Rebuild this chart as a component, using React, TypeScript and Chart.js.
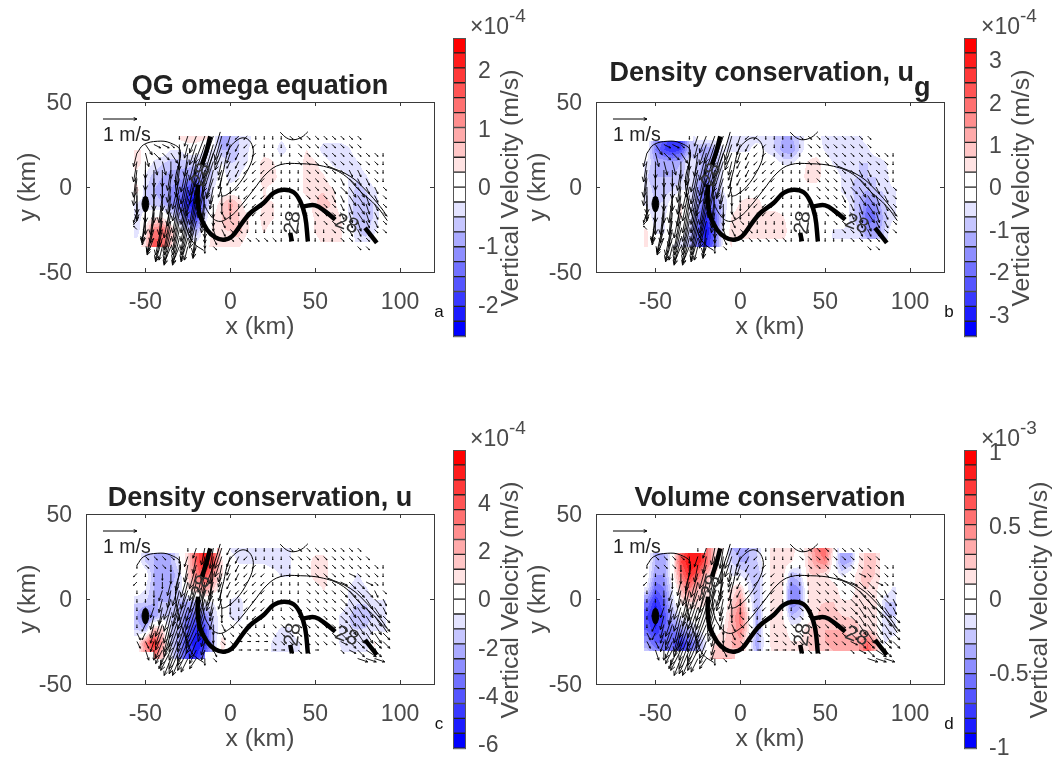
import React, { useEffect, useRef } from "react";
import { Chart, registerables } from "chart.js";
Chart.register(...registerables);

const FONT = "'Liberation Sans', Arial, sans-serif";
const INK = "#4a4a4a";
const xTickValues = [-50, 0, 50, 100];
const yTickValues = [-50, 0, 50];
const heatX = [-55,-50,-45,-40,-35,-30,-25,-20,-15,-10,-5,0,5,10,15,20,25,30,35,40,45,50,55,60,65,70,75,80,85,90];
const heatY = [30,22,14,6,-2,-10,-18,-26,-35];
const arrowY = [30,25,20,15,10,5,0,-5,-10,-15,-20,-25,-30,-35];

const heatA = [
[0,0,0,0,0,1.9,2,2,1.9,0,-4,-3,-2,-1.9,0,0,0,-0.5,0,0,0,0,0,0,0,0,0,0,0,0],
[1,1,0,0,-1,-1,0,0,-1,-1,-3,-3,-2,-1.2,0,0,0,-1.9,-0.5,0,1,0,-1.9,-1.9,-1.9,-1.2,0,0,0,0],
[1.9,0,-1.2,-1.9,-2.5,-2.5,-2.5,-2.5,-2,-1.9,-1,-2,-1.9,-1,0,1.9,1.2,0,0,0,1.9,1.2,0,-1.2,-1.9,-1.9,-1.2,0,0,0],
[0,-1.2,-2.5,-3,-3.5,-3.5,-4,-5,-3,-1.9,0,-1.9,-1,0,0,1.9,1.9,0,0,0,1.9,1.9,1.2,0,0,-1.2,-1.9,-1.2,0,0],
[1.9,-1.9,-3,-3.5,-4,-5,-7,-8,-4,-1,0,0,0,0,0,1.2,0,0,0,0,1.9,1.9,1.9,1.2,0,-1.2,-2.5,-1.9,-1.2,0],
[-1.2,-1.9,-2.5,-3,-4,-6,-8,-9,-4,0,1.9,3.5,1.9,0,0,1.2,1.2,0,0,0,0,1.9,2.5,1.9,0,-1.2,-3,-2.5,-1.9,0],
[-2,0,1.2,1.2,-1,-3,-6,-7,-2,1.2,2,3,2,1.2,0,1.9,1.2,0,0,0,0,1.2,1.2,1.9,1.2,-1.2,-3,-2.5,-1.9,0],
[-1.9,1.2,5,6,3,0,-2,-3,0,1.2,1.9,2,2.5,1.2,0,1.2,0,0,0,0,0,1.2,1.9,1.9,1.2,0,-1.9,-2.5,-1.2,0],
[0,1.9,7,6,2,0,0,0,0,1.9,1.9,1.9,1.2,0,0,0,0,0,0,0,0,0,1.2,1.2,1.2,0,-1.2,-1.2,0,0],
];
const heatB = [
[0,-4,-6,-8,-7,-3,0,0,0,0,-1.9,-1.9,-1.9,-1.9,-1.9,-2,-3,-3,-1.9,0,0,-1.9,-1.9,-1.9,-1.2,-1.2,-0.5,0,0,0],
[0,-5,-7,-8,-7,-3,-3,-4,-3,-1,-1.2,-1.2,-1.2,0,-1.2,-2,-3.5,-4,-1.9,0,0,-1.2,-1.9,-1.9,-1.9,-1.2,-1.2,0,0,0],
[-1.2,-3,-3,-3.5,-3,-1,-2,-4,-3,-1,0,0,0,0,0,0,-1.2,-1.2,0,1.2,1.9,0,-1.2,-1.9,-1.9,-2,-2,-1.9,-1.2,0],
[-1.9,-3,-3,-3,-2.5,-1,-3,-5,-3,-1,0,0,0,0,0,0,0,0,0,1.9,1.9,0,0,-1.2,-1.9,-2,-2,-2,-1.9,0],
[-1.2,-2.5,-2.5,-2,-1,-1,-4,-6,-4,-1,0,0,0,0,0,0,0,0,0,0,0,0,0,-1.2,-1.9,-2.5,-3,-2,-1.9,-1.2],
[-1.2,-2,-1.9,0,1.2,-1,-4,-6,-5,-1.9,0,1.2,1.9,1.9,0,0,0,0,0,0,0,0,0,0,-1.2,-3,-5,-4,-2,-1.2],
[0,-1.9,-1.2,0,1.2,-1,-5,-8,-6,-1.9,1.2,1.9,1.9,1.9,1.9,2,1.2,0,0,0,0,0,0,0,-1.2,-3,-6,-5,-2.5,-1.2],
[1.2,-1.2,-1.2,0,0,-2,-6,-9,-6,-1,1.9,1.2,1.9,2,2,2,2,0,0,0,0,0,-1.2,-1.2,-1.2,-2,-4,-4,-2,0],
[1.2,0,0,-1,-1.9,-3,-6,-8,-5,-0.5,1.2,1.2,1.2,1.2,1.2,1.2,0.5,0,0,0,0,0,-1.2,-1.2,-1.2,-1.2,-2,-2,-1.2,0],
];
const heatC = [
[0,-2,-3,-3,-3,-1,2,6,9,7,0,-1.2,-1.9,-1.9,-1.9,-1.9,-1.9,-2,-1.2,0,0,0,0,0,0,0,0,0,0,0],
[0,-2,-3,-3,-3,-1,2,6,9,7,1.2,0,-1.2,-1.2,-1.2,-1.2,-1.9,-2,-1.2,0,0,1.9,2,0,0,0,0,0,0,0],
[0,0,-3,-4,-4,-2,2,5,7,4,1.2,0,0,0,0,0,0,-1.2,-1.2,0,0,1.9,2,0,0,0,-1.2,0,0,0],
[0,-1,-3,-4,-3,-1.9,1.2,3,4,2,0,0,0,0,0,0,0,0,0,0,0,0,1.2,0,0,-1.2,-1.9,-1.2,0,0],
[-1.9,-2,-3,-3,-3,-3,-3,-3,-1,-1,0,-1.2,-1.9,0,0,0,0,0,0,0,0,0,0,0,0,-1.2,-1.9,-1.9,-1.2,-1.2],
[-3,-6,-4,-2,-2,-3,-5,-6,-5,-2,0,-1.2,-1.9,0,0,0,0,0,0,0,0,0,0,0,-1.2,-1.9,-3,-2.5,-1.9,-1.2],
[-2,-3,3,2,-2,-3,-6,-8,-7,-2.5,0,0,0,0,0,0,-0.5,-1.2,-1.2,0,0,0,0,0,-1.2,-1.9,-2,-1.9,-1.2,-1.2],
[0,5,8,4,-2,-4,-7,-9,-8,-3,1.9,0,0,0,0,0,-1.2,-1.9,-1.9,-1.2,0,0,0,0,-1.2,-1.9,-1.9,-1.9,1.2,0],
[0,3,5,2,-1,-4,-7,-8,-5,-2,0.5,0,0,0,0,0,-1.2,-1.2,-1.2,-1.2,0,0,0,0,-0.5,-1.9,-1.9,-1.2,0.5,0],
];
const heatD = [
[0,-3,-3,0,5,8,9,6,2,1.2,-3,-3.5,-3,-1.9,0,1.9,2,2,0,2,5,6,1.2,-4,-4,1.2,2.5,2,0,0],
[0,-3,-4,0,7,9,9,6,2,0,-2,-3,-3,-2,0,2,2,1.2,-0.5,2,4,5,0,-4,-3,1.2,2.5,2,0,0],
[0,-4,-4,0,5,8,6,3,1.2,0,-1.2,-1.2,-2,-3,0,1.9,1.9,-3,-2,1.9,2,1.2,0,-1.2,0,1.9,2.5,1.9,0,0],
[-1.2,-6,-5,-1,3,5,3,2,0,0,1.2,2.5,-1.2,-3,0,1.9,1.2,-5,-4,1.2,1.9,1.9,1.9,0,0,1.9,2,1.2,0,-1.2],
[-5,-8,-6,-2,1.2,2,1.9,1.2,0,0,1.9,4,0,-3,0,1.9,1.2,-5,-4,1.2,1.9,2,2,1.2,1.2,1.9,1.9,1.2,-2,-2],
[-7,-9,-7,-3,-1,0,0,0,0,0,3,5.5,1.2,-3.5,0,2,1.2,-3,-2,0,1.9,2.5,2.5,2,1.9,1.9,1.9,1.2,-2,-2],
[-6,-8,-6,-5,-4,-3,-1,0,0,1.2,3,5,1.2,-3.5,0,2,1.9,0,0,1.9,2.5,3,3,3,2.5,2,2,1.2,-1.9,-1.9],
[-4,-6,-6,-6,-8,-6,-4,-1,1.9,1.9,3,3.5,0,-4,0,2,1.9,1.2,1.2,2,3,3,3.5,3.5,3.5,4,6,3,-1.2,0],
[-1,-3,-4,-4,-6,-5,-3,0,3,3,3,2,0,-3,0,1.2,1.2,1.2,1.2,1.9,2,2,2.5,2.5,3,4,7,3,0,0],
];

// arrow components, tenths of m/s
const uGeo = [
[0,0,0,0,0,0,-1,-2,-3,-3,-2,-1,-1,-1,0,0,0,0,1,1,1,1,1,1,1,1,1,0,0,0],
[0,2,2,2,1,0,-1,-2,-3,-3,-2,-1,-1,-1,-1,0,0,0,0,1,1,1,1,1,1,1,1,0,0,0],
[-1,1,2,2,2,0,-1,-2,-3,-3,-2,-1,-1,-1,-1,0,0,0,0,1,1,1,1,1,1,1,1,1,1,0],
[-1,0,1,1,0,-1,-2,-2,-3,-3,-1,-1,-1,-1,-1,-1,0,0,0,1,1,1,1,1,1,1,1,1,1,0],
[-1,0,0,0,-1,-1,-2,-2,-3,-2,-1,-1,-1,-1,-1,-1,0,0,0,0,1,1,1,1,1,1,1,1,1,0],
[-1,0,0,0,-1,-2,-2,-3,-2,-2,-1,-1,-1,-1,-1,-1,0,0,0,0,1,1,1,1,1,2,1,1,1,0],
[0,0,0,0,-1,-2,-2,-2,-2,-1,-1,0,-1,-1,-1,-1,0,0,0,0,1,1,1,1,2,2,2,1,1,1],
[0,0,0,-1,-1,-2,-2,-2,-1,-1,0,0,0,-1,-1,-1,0,0,0,0,1,1,1,1,1,2,2,1,1,1],
[0,0,-1,-1,-2,-2,-2,-2,-1,0,0,0,0,-1,-1,-1,0,0,0,0,0,1,1,1,1,1,2,1,1,1],
[-1,-1,-1,-1,-2,-2,-2,-2,-1,0,1,0,0,0,-1,-1,0,0,0,0,0,1,1,1,1,1,2,1,1,1],
[-1,-1,-2,-2,-2,-2,-2,-2,0,0,1,1,0,0,0,0,0,0,0,0,0,0,1,1,1,1,1,1,1,1],
[-1,-1,-2,-2,-2,-2,-2,-1,0,1,1,1,1,0,0,0,0,0,0,0,0,0,0,1,1,1,1,1,1,1],
[0,-1,-2,-2,-2,-2,-2,-1,0,1,1,1,1,1,1,1,1,0,0,0,0,0,0,0,1,1,1,1,0,0],
[0,0,0,-1,-2,-2,-1,-1,0,1,0,0,0,0,0,0,0,0,0,0,0,0,0,0,0,0,1,1,0,0],
];
const vGeo = [
[0,0,0,0,0,-1,-3,-5,-8,-9,-7,-3,-1,-1,-1,-1,-1,-1,-1,-1,-1,-1,-1,-1,-1,-1,-1,0,0,0],
[0,-3,-1,-1,-1,-3,-4,-6,-9,-10,-6,-3,-2,-1,-1,-1,-1,-1,-1,-1,-1,-1,-1,-1,-1,-1,-1,0,0,0],
[-4,-4,-2,-2,-3,-5,-7,-8,-10,-10,-5,-3,-2,-1,-1,-1,-1,-1,-1,-1,-1,-1,-1,-1,-1,-1,-1,-1,-1,-1],
[-6,-5,-4,-4,-5,-7,-9,-10,-10,-9,-4,-2,-2,-1,-1,-1,-1,-1,-1,-1,-1,-1,-1,-1,-1,-1,-1,-1,-1,-1],
[-8,-6,-5,-5,-6,-8,-10,-10,-10,-8,-3,-2,-2,-1,-1,-1,-1,-1,-1,-1,-1,-1,-1,-1,-1,-2,-2,-1,-1,-1],
[-8,-7,-6,-6,-7,-9,-10,-11,-10,-6,-3,-2,-1,-1,-1,-1,-1,-1,-1,-1,-1,-1,-1,-1,-2,-2,-2,-2,-1,-1],
[-8,-7,-7,-7,-8,-10,-11,-11,-9,-5,-3,-2,-1,-1,-1,-1,-1,-1,-1,-1,-1,-1,-1,-2,-2,-3,-3,-2,-2,-1],
[-7,-8,-8,-8,-9,-11,-11,-11,-8,-4,-3,-2,-1,-1,-1,-1,-1,-1,-1,-1,-1,-1,-1,-2,-2,-3,-3,-3,-2,-1],
[-5,-9,-9,-9,-10,-11,-11,-10,-7,-4,-3,-2,-1,-1,-1,-1,-1,-1,-1,-1,-1,-1,-1,-1,-2,-3,-3,-3,-2,-1],
[-3,-9,-9,-10,-11,-11,-11,-9,-6,-4,-2,-2,-1,-1,-1,-1,-1,-1,-1,-1,-1,-1,-1,-1,-2,-3,-3,-3,-2,-1],
[-1,-6,-9,-10,-10,-10,-10,-8,-5,-3,-2,-1,-1,-1,-1,-1,-1,-1,-1,-1,-1,-1,-1,-1,-1,-2,-3,-2,-2,-1],
[1,-3,-7,-9,-9,-9,-9,-7,-4,-3,-2,-1,-1,-1,-1,-1,-1,-1,-1,-1,-1,-1,-1,-1,-1,-2,-2,-2,-1,-1],
[0,-2,-5,-7,-8,-8,-7,-6,-3,-2,-1,-1,-1,-1,-1,-1,-1,-1,-1,-1,-1,-1,-1,-1,-1,-1,-1,-1,0,0],
[0,0,0,-4,-5,-5,-4,-3,-2,-1,0,0,0,0,0,0,0,0,0,0,0,0,0,0,0,0,-1,-1,0,0],
];
const uTotal = [
[0,0,0,0,0,0,0,-1,-1,-1,-2,-1,-1,0,0,0,0,0,1,1,1,1,1,1,1,1,1,0,0,0],
[0,1,1,1,1,0,-1,-1,-1,-1,-2,-1,-1,-1,0,0,0,0,1,1,1,1,1,1,1,1,1,1,0,0],
[0,1,1,1,0,0,-1,-2,-2,-1,-1,-1,-1,-1,-1,0,0,0,0,1,1,1,1,1,1,1,1,1,1,0],
[-1,0,0,0,0,-1,-2,-2,-2,-1,-1,-1,-1,-1,-1,-1,0,0,0,0,1,1,1,1,1,2,1,1,1,0],
[-1,0,0,0,-1,-2,-2,-2,-2,-2,-1,-1,-1,-1,-1,-1,0,0,0,0,1,1,1,1,2,2,2,2,1,0],
[0,0,0,-1,-1,-2,-3,-3,-2,-2,-1,-1,-1,-1,-1,-1,0,0,0,0,1,1,1,1,2,2,2,2,1,1],
[0,0,0,-1,-2,-2,-3,-3,-2,-1,-1,0,0,-1,-1,-1,0,0,0,0,1,1,1,1,2,2,2,2,2,1],
[0,0,-1,-1,-2,-3,-3,-3,-2,-1,0,0,0,-1,-1,-1,0,0,1,1,1,1,1,1,2,2,2,2,2,1],
[0,0,-1,-2,-2,-3,-3,-3,-2,-1,0,1,0,0,-1,-1,0,1,1,1,1,1,1,1,2,2,2,2,2,2],
[0,-1,-1,-2,-2,-3,-3,-3,-2,0,1,1,1,1,0,0,1,1,1,1,1,1,1,1,2,2,2,2,2,2],
[1,-1,-1,-2,-2,-3,-3,-3,-1,0,1,1,1,1,1,1,1,1,1,1,1,1,1,1,2,2,2,2,2,2],
[1,1,-1,-2,-3,-3,-3,-2,-1,0,1,1,1,1,1,1,1,1,1,1,1,1,1,1,2,2,2,3,2,2],
[0,1,0,-2,-3,-3,-3,-2,-1,1,1,1,1,1,1,1,1,1,1,1,1,1,0,0,1,2,2,3,2,0],
[0,0,0,-1,-2,-2,-2,-2,0,1,0,0,0,0,0,0,0,0,0,0,0,0,0,0,0,0,3,3,3,0],
];
const vTotal = [
[0,0,0,0,0,0,-1,-3,-5,-6,-6,-2,-1,-1,-1,-1,-1,-1,-1,-1,-1,-1,-1,-1,-1,-1,-1,0,0,0],
[0,-1,-1,-1,-1,-2,-3,-5,-7,-8,-6,-3,-2,-1,-1,-1,-1,-1,-1,-1,-1,-1,-1,-1,-1,-1,-1,-1,0,0],
[-1,-1,-1,-1,-2,-3,-5,-7,-8,-9,-5,-3,-2,-1,-1,-1,-1,-1,-1,-1,-1,-1,-1,-1,-1,-1,-1,-1,-1,-1],
[-1,-1,-1,-2,-3,-5,-7,-8,-9,-8,-4,-2,-2,-1,-1,-1,-1,-1,-1,-1,-1,-1,-1,-1,-1,-1,-1,-1,-1,-1],
[-1,-1,-1,-2,-4,-7,-8,-9,-9,-7,-3,-2,-1,-1,-1,-1,-1,-1,-1,-1,-1,-1,-1,-1,-1,-2,-2,-1,-1,-1],
[-1,-1,-2,-3,-5,-8,-9,-9,-9,-6,-3,-2,-1,-1,-1,-1,-1,-1,-1,-1,-1,-1,-1,-1,-2,-2,-2,-2,-2,-1],
[-1,-1,-2,-4,-6,-8,-9,-9,-8,-5,-3,-2,-1,-1,-1,-1,-1,-1,-1,-1,-1,-1,-1,-1,-2,-3,-3,-3,-2,-2],
[-1,-2,-3,-5,-7,-9,-9,-9,-7,-4,-3,-2,-1,-1,-1,-1,-1,-1,-1,-1,-1,-1,-1,-1,-2,-3,-3,-3,-3,-2],
[-1,-2,-4,-6,-8,-9,-9,-8,-6,-4,-2,-1,-1,-1,-1,-1,-1,-1,-1,-1,-1,-1,-1,-1,-2,-3,-3,-3,-3,-2],
[-1,-2,-4,-6,-8,-8,-8,-7,-5,-3,-2,-1,-1,-1,-1,-1,-1,-1,-1,-1,-1,-1,-1,-1,-2,-3,-3,-3,-3,-2],
[-2,-2,-3,-5,-7,-8,-8,-6,-4,-3,-2,-1,-1,-1,-1,-1,-1,-1,-1,-1,-1,-1,-1,-1,-2,-2,-3,-3,-3,-2],
[-2,-2,-3,-5,-7,-8,-7,-5,-4,-3,-1,-1,0,0,0,0,-1,-1,-1,-1,-1,-1,-1,-1,-1,-2,-2,-3,-2,-2],
[0,-3,-3,-4,-6,-7,-6,-4,-3,-2,-1,0,0,0,0,0,0,0,-1,-1,-1,0,0,0,-1,-1,-2,-2,-2,0],
[0,0,0,-3,-5,-5,-4,-3,-2,-1,0,0,0,0,0,0,0,0,0,0,0,0,0,0,0,0,-1,-1,-1,0],
];

const thickUpper = [[-11.8,29.8],[-14.1,21],[-16.7,13.1]];
const thickMain = [[-19,1.4],[-19.2,-7.5],[-18,-16.3],[-13.7,-25.1],[-8.8,-29.6],[-3.9,-31],[1,-29],[6.9,-21.2],[11.8,-15.3],[19.6,-9.4],[25.5,-3.5],[31.4,-1.6],[37.3,-3.1],[41.2,-8.4],[44.1,-17.3],[45.7,-32]];
const thickBranch = [[43,-11.4],[50,-10.8],[55.9,-14.3],[61.8,-19.2]];
const thickEnd = [[79.4,-24.1],[86.3,-32.9]];
const thickStub = [[35.3,-27],[36.3,-32]];
const thinArc = [[29.4,32.2],[33.3,28.8],[37.3,27.8],[42.2,29.4],[45.7,32.5]];
const thinLoop = [[-4.9,-5.5],[-5.9,0.4],[-3.9,10.2],[-1,21.6],[3.9,27.5],[8.8,28.8],[12.7,25],[13.3,18],[9.8,9.2],[3.9,0.4],[-2,-4.5],[-4.9,-5.5]];
const thinWest = [[-54.9,20],[-51,24.9],[-43,26.9],[-35.3,25.9],[-29.4,21],[-32.3,4.3],[-30.4,-9.4],[-25.5,-25],[-21.6,-33],[-15.7,-37.3]];
const thinFront = [[-5.9,32.4],[-8.8,22.9],[-12.7,12.2],[-16,2.4],[-15.7,-7.5],[-12.7,-15.3],[-6.9,-20.2],[0,-17.3],[5.9,-11.4],[13.7,-1.6],[21.6,8.2],[29.4,13.1],[41.2,13.7],[54.9,12.2],[66.7,7.3],[76.5,-2.5],[86.3,-11.4],[92.5,-19.8]];
const thinFrontB = [[56.9,12.5],[70.6,6.3],[80.4,-2.5],[88.2,-11.4],[92.5,-17.3]];
const blackSpot = [[-50,-5.5],[-49,-6],[-48.3,-8],[-48,-10],[-48.3,-12],[-49,-14],[-50,-15],[-51,-14],[-51.7,-12],[-52,-10],[-51.7,-8],[-51,-6],[-50,-5.5]];
const contourLabels = [[-17,7,-70],[37,-21,-82],[68.6,-22,20]];

const titles = ["QG omega equation", "Density conservation, u", "Density conservation, u", "Volume conservation"];
const titleSubs = ["", "g", "", ""];
const letters = ["a", "b", "c", "d"];
const barLimits = [2.54, 3.52, 6.2, 1.01];
const barTicks = [[2,1,0,-1,-2],[3,2,1,0,-1,-2,-3],[4,2,0,-2,-4,-6],[1,0.5,0,-0.5,-1]];
const barExponents = ["-4","-4","-4","-3"];
const heats = [heatA, heatB, heatC, heatD];
const uFields = [uGeo, uGeo, uTotal, uTotal];
const vFields = [vGeo, vGeo, vTotal, vTotal];
// [x from, x to, top km] lowered tops; [x from, x to] deep bottom, then deep and shallow bottom km
const lowTops = [[[-99,-30,27]],[[-99,-28,27]],[[-99,-8,27]],[[-99,-20,27],[58,99,27]]];
const deepBottoms = [[-60,10,-35,-32.5],[-60,-5,-35,-30.5],[-45,-15,-35,-31],[-20,-3,-35,-30.6]];
const panelLeft = [0, 510, 0, 510];
const panelTop = [0, 0, 412, 412];
const barLeft = [453, 964, 453, 964];
const labelX = [511, 1022, 511, 1040];
const titleLift = [-15, -28, -15, -15];

const levelColor = (v: number) => {
  const i = Math.min(9, Math.floor(Math.abs(v)));
  if (i < 1) return null;
  const c = Math.round(255 * (1 - i / 9));
  return v > 0 ? `rgb(255,${c},${c})` : `rgb(${c},${c},255)`;
};

function sample(field: number[][], x: number, y: number) {
  const nx = heatX.length, ny = heatY.length;
  const fx = Math.max(0, Math.min(nx - 1.001, (x - heatX[0]) / 5));
  let j = 0;
  while (j < ny - 2 && y < heatY[j + 1]) j++;
  const fy = Math.max(0, Math.min(1, (heatY[j] - y) / (heatY[j] - heatY[j + 1])));
  const i = Math.floor(fx), a = fx - i;
  const p = field[j][i] * (1 - a) + field[j][i + 1] * a;
  const q = field[j + 1][i] * (1 - a) + field[j + 1][i + 1] * a;
  return p * (1 - fy) + q * fy;
}

function drawArrow(ctx: any, x0: number, y0: number, x1: number, y1: number, cap = 5.5) {
  const d = Math.hypot(x1 - x0, y1 - y0);
  if (d < 0.5) return;
  const t = Math.atan2(y1 - y0, x1 - x0);
  const h = Math.min(cap, 0.26 * d);
  ctx.beginPath();
  ctx.moveTo(x0, y0);
  ctx.lineTo(x1, y1);
  ctx.moveTo(x1 - h * Math.cos(t - 0.42), y1 - h * Math.sin(t - 0.42));
  ctx.lineTo(x1, y1);
  ctx.lineTo(x1 - h * Math.cos(t + 0.42), y1 - h * Math.sin(t + 0.42));
  ctx.stroke();
}

const panelPlugin = {
  id: "panelPlugin",
  beforeDatasetsDraw(chart: any, _a: any, o: any) {
    const { ctx, chartArea: area, scales } = chart;
    const k = o.index;
    const field = heats[k];
    const [dx0, dx1, deepY, shallowY] = deepBottoms[k];
    ctx.save();
    for (let px = Math.floor(area.left); px < area.right; px++) {
      const x = scales.x.getValueForPixel(px + 0.5);
      if (x < -57 || x > 92) continue;
      let top = 30;
      lowTops[k].forEach(([a, b, t]: number[]) => { if (x >= a && x <= b) top = t; });
      const bottom = x >= dx0 && x <= dx1 ? deepY : shallowY;
      for (let py = Math.floor(area.top); py < area.bottom; py++) {
        const y = scales.y.getValueForPixel(py + 0.5);
        if (y > top || y < bottom) continue;
        const c = levelColor(sample(field, x, y));
        if (c) { ctx.fillStyle = c; ctx.fillRect(px, py, 1, 1); }
      }
    }
    ctx.strokeStyle = "#000";
    ctx.lineWidth = 0.9;
    chart.data.datasets[0].data.forEach((p: any) => {
      if (!p.u && !p.v) return;
      drawArrow(ctx, scales.x.getPixelForValue(p.x), scales.y.getPixelForValue(p.y),
        scales.x.getPixelForValue(p.x + p.u * 2), scales.y.getPixelForValue(p.y + p.v * 2));
    });
    ctx.restore();
  },
  afterDatasetsDraw(chart: any, _a: any, o: any) {
    const { ctx, chartArea: area, scales } = chart;
    const k = o.index;
    ctx.save();
    ctx.strokeStyle = "#3a3a3a";
    ctx.lineWidth = 1;
    ctx.strokeRect(area.left + 0.5, area.top + 0.5, area.right - area.left, area.bottom - area.top);
    ctx.beginPath();
    xTickValues.forEach((v) => {
      const p = Math.round(scales.x.getPixelForValue(v)) + 0.5;
      ctx.moveTo(p, area.bottom); ctx.lineTo(p, area.bottom - 4);
      ctx.moveTo(p, area.top); ctx.lineTo(p, area.top + 4);
    });
    yTickValues.forEach((v) => {
      const p = Math.round(scales.y.getPixelForValue(v)) + 0.5;
      ctx.moveTo(area.left, p); ctx.lineTo(area.left + 4, p);
      ctx.moveTo(area.right, p); ctx.lineTo(area.right - 4, p);
    });
    ctx.stroke();
    ctx.fillStyle = "#333";
    ctx.font = `21px ${FONT}`;
    ctx.textAlign = "center";
    ctx.textBaseline = "middle";
    contourLabels.forEach(([x, y, r]) => {
      ctx.save();
      ctx.translate(scales.x.getPixelForValue(x), scales.y.getPixelForValue(y));
      ctx.rotate((r * Math.PI) / 180);
      ctx.fillText("28", 0, 0);
      ctx.restore();
    });
    ctx.strokeStyle = "#000";
    ctx.fillStyle = "#222";
    const ky = scales.y.getPixelForValue(40);
    drawArrow(ctx, scales.x.getPixelForValue(-75), ky, scales.x.getPixelForValue(-55), ky, 3.5);
    ctx.font = `19.5px ${FONT}`;
    ctx.textAlign = "left";
    ctx.fillText("1 m/s", scales.x.getPixelForValue(-75), scales.y.getPixelForValue(30));
    ctx.fillStyle = "#222";
    ctx.font = `bold 27px ${FONT}`;
    const main = titles[k], sub = titleSubs[k];
    const w = ctx.measureText(main).width + ctx.measureText(sub).width;
    const cx = (area.left + area.right) / 2 - w / 2;
    const ty = area.top + titleLift[k];
    ctx.fillText(main, cx, ty);
    if (sub) ctx.fillText(sub, cx + ctx.measureText(main).width, ty + 15);
    ctx.font = `17px ${FONT}`;
    ctx.fillStyle = "#111";
    ctx.textAlign = "center";
    ctx.fillText(letters[k], area.right + 5, area.bottom + 40);
    ctx.restore();
  },
};

const barPlugin = {
  id: "barPlugin",
  afterDraw(chart: any, _a: any, o: any) {
    const { ctx, chartArea: area } = chart;
    const k = o.index;
    ctx.save();
    ctx.strokeStyle = "#555";
    ctx.lineWidth = 1;
    ctx.strokeRect(area.left + 0.5, area.top + 0.5, area.right - area.left - 1, area.bottom - area.top);
    ctx.fillStyle = INK;
    ctx.textBaseline = "middle";
    ctx.textAlign = "left";
    ctx.font = `23px ${FONT}`;
    ctx.fillText("×10", area.left + 17, area.top - 10);
    const w = ctx.measureText("×10").width;
    ctx.font = `19px ${FONT}`;
    ctx.fillText(barExponents[k], area.left + 17 + w, area.top - 21);
    ctx.translate(labelX[k] - barLeft[k], (area.top + area.bottom) / 2 + 1);
    ctx.rotate(-Math.PI / 2);
    ctx.textAlign = "center";
    ctx.font = `24.8px ${FONT}`;
    ctx.fillText("Vertical Velocity (m/s)", 0, 0);
    ctx.restore();
  },
};

const toPoints = (pts: number[][]) => pts.map(([x, y]) => ({ x, y }));
const line = (pts: number[][], width: number, extra: any = {}) => ({
  data: toPoints(pts), showLine: true, pointRadius: 0, borderColor: "#000", borderWidth: width, tension: 0.4, ...extra,
});

function panelConfig(k: number): any {
  const arrows: any[] = [];
  arrowY.forEach((y, j) => heatX.forEach((x, i) => arrows.push({ x, y, u: uFields[k][j][i], v: vFields[k][j][i] })));
  return {
    type: "scatter",
    data: {
      datasets: [
        { label: "Velocity", data: arrows, pointRadius: 0, showLine: false },
        line(thinArc, 1), line(thinLoop, 1), line(thinWest, 1), line(thinFront, 1), line(thinFrontB, 1),
        line(thickUpper, 4.5), line(thickMain, 4.5), line(thickBranch, 4.5), line(thickEnd, 4.5), line(thickStub, 4.5),
        line(blackSpot, 1, { fill: "shape", backgroundColor: "#000", tension: 0.2 }),
      ],
    },
    options: {
      animation: false, responsive: false, events: [],
      layout: { padding: { top: 102, right: 16, left: 0, bottom: 0 } },
      plugins: { legend: { display: false }, tooltip: { enabled: false }, panelPlugin: { index: k } },
      scales: {
        x: {
          type: "linear", min: -85, max: 120,
          afterBuildTicks: (a: any) => { a.ticks = xTickValues.map((value) => ({ value })); },
          afterFit: (s: any) => { s.height = 73; },
          grid: { display: false }, border: { display: false },
          ticks: { color: INK, font: { family: FONT, size: 23 }, maxRotation: 0, padding: 9, autoSkip: false },
          title: { display: true, text: "x (km)", color: INK, font: { family: FONT, size: 24.8 }, padding: { top: 0, bottom: 3 } },
        },
        y: {
          type: "linear", min: -50, max: 50,
          afterBuildTicks: (a: any) => { a.ticks = yTickValues.map((value) => ({ value })); },
          afterFit: (s: any) => { s.width = 86; },
          grid: { display: false }, border: { display: false },
          ticks: { color: INK, font: { family: FONT, size: 23 }, padding: 6, autoSkip: false, labelOffset: 2 },
          title: { display: true, text: "y (km)", color: INK, font: { family: FONT, size: 24.8 }, padding: { top: 13, bottom: 0 } },
        },
      },
    },
    plugins: [panelPlugin],
  };
}

function barConfig(k: number): any {
  const lim = barLimits[k];
  const step = lim / 10;
  const datasets = Array.from({ length: 20 }, (_, i) => {
    const lo = -lim + i * step;
    const mid = -9.5 + i;
    const level = mid > 0 ? Math.floor(mid) : Math.ceil(mid);
    const c = levelColor(level * 1.0 + Math.sign(level) * 0.01);
    return {
      data: [[lo, lo + step]], backgroundColor: c || "#fff", borderColor: "#222", borderWidth: 1,
      borderSkipped: false, grouped: false, barPercentage: 1, categoryPercentage: 1,
    };
  });
  return {
    type: "bar",
    data: { labels: ["w"], datasets },
    options: {
      animation: false, responsive: false, events: [],
      layout: { padding: { top: 38, bottom: 14, left: 0, right: 0 } },
      plugins: { legend: { display: false }, tooltip: { enabled: false }, barPlugin: { index: k } },
      scales: {
        x: { display: false },
        y: {
          position: "right", min: -lim, max: lim,
          afterBuildTicks: (a: any) => { a.ticks = barTicks[k].map((value) => ({ value })); },
          afterFit: (s: any) => { s.width = 80; },
          grid: { display: false }, border: { display: false },
          ticks: { color: INK, font: { family: FONT, size: 23 }, padding: 4, autoSkip: false, labelOffset: 2, callback: (v: any) => String(v) },
        },
      },
    },
    plugins: [barPlugin],
  };
}

export default function App() {
  const panels = useRef<(HTMLCanvasElement | null)[]>([]);
  const bars = useRef<(HTMLCanvasElement | null)[]>([]);
  useEffect(() => {
    const charts: Chart[] = [];
    [0, 1, 2, 3].forEach((k) => {
      charts.push(new Chart(panels.current[k]!, panelConfig(k)));
      charts.push(new Chart(bars.current[k]!, barConfig(k)));
    });
    return () => charts.forEach((c) => c.destroy());
  }, []);
  return (
    <div style={{ position: "absolute", left: 0, top: 0, width: 1057, height: 758, overflow: "hidden", background: "#fff" }}>
      {[0, 1, 2, 3].map((k) => (
        <canvas key={"p" + k} ref={(el) => { panels.current[k] = el; }} width={450} height={345}
          style={{ position: "absolute", left: panelLeft[k], top: panelTop[k], width: 450, height: 345 }} />
      ))}
      {[0, 1, 2, 3].map((k) => (
        <canvas key={"b" + k} ref={(el) => { bars.current[k] = el; }} width={93} height={354}
          style={{ position: "absolute", left: barLeft[k], top: panelTop[k], width: 93, height: 354 }} />
      ))}
    </div>
  );
}
